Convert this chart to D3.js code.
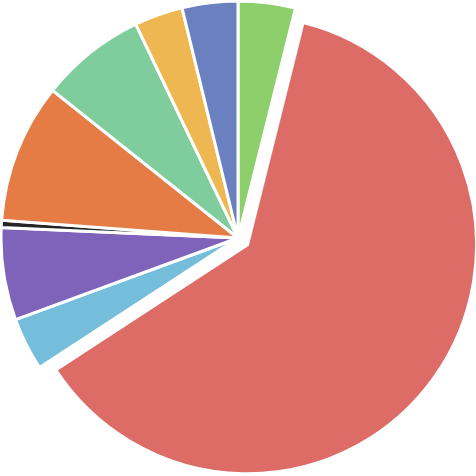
<!DOCTYPE html>
<html>
<head>
<meta charset="utf-8">
<script src="https://cdn.jsdelivr.net/npm/d3@7"></script>
<style>
  html, body { margin: 0; padding: 0; background: #fff; }
  svg { display: block; }
</style>
</head>
<body>
<div id="chart"></div>
<script>
// Slices, clockwise from 12 o'clock
const categories = ["A", "B", "C", "D", "E", "F", "G", "H", "I"];
const values = [3.9, 61.9, 3.6, 6.3, 0.5, 9.5, 7.2, 3.3, 3.8];
const colors = ["#8ccf6b", "#dd6c67", "#74bedc", "#7f62ba", "#262626", "#e67c45", "#7fcd9d", "#eeb752", "#6a80c1"];
const exploded = ["B"];

const width = 476, height = 476;
const cx = 238, cy = 238;
const radius = 237;
// pulled-out slice is drawn a little smaller and shifted along its bisector
const pullRadius = 229, pullOffset = 11.7;

const svg = d3.select("#chart").append("svg")
    .attr("width", width)
    .attr("height", height);

const g = svg.append("g").attr("transform", `translate(${cx},${cy})`);

const data = categories.map((c, i) => ({ name: c, value: values[i], color: colors[i] }));

const pie = d3.pie().sort(null).value(d => d.value);
const arcs = pie(data);

const arc = d3.arc().innerRadius(0);

g.selectAll("path")
    .data(arcs)
    .join("path")
    .attr("d", d => arc.outerRadius(exploded.includes(d.data.name) ? pullRadius : radius)(d))
    .attr("transform", d => {
        if (!exploded.includes(d.data.name)) return null;
        const mid = (d.startAngle + d.endAngle) / 2;
        return `translate(${Math.sin(mid) * pullOffset},${-Math.cos(mid) * pullOffset})`;
    })
    .attr("fill", d => d.data.color)
    .attr("stroke", "#fff")
    .attr("stroke-width", 3);
</script>
</body>
</html>
